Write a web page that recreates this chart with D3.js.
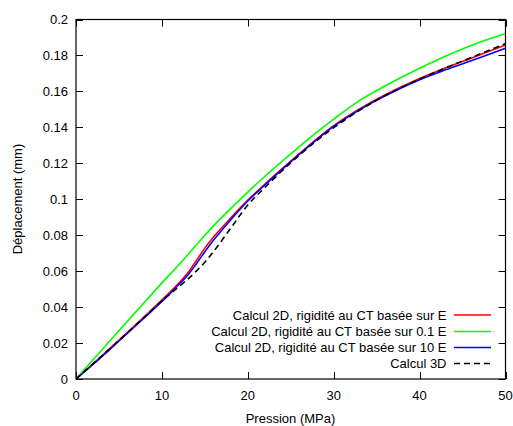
<!DOCTYPE html>
<html><head><meta charset="utf-8">
<script src="https://cdn.jsdelivr.net/npm/d3@7"></script>
<style>body{margin:0;background:#fff}svg{display:block}text{font-family:"Liberation Sans",Arial,sans-serif;font-size:13px;fill:#000}</style>
</head><body><svg id="c" width="513" height="426"></svg>
<script>
const pressure = [0,2,4,6,8,10,11,12,13,14,15,16,18,20,22,25,28,30,33,36,40,43,46,50];
const calcE    = [0,0.0086,0.0173,0.026,0.0348,0.044,0.0486,0.0535,0.059,0.0658,0.0728,0.079,0.0895,0.0995,0.1085,0.1212,0.1335,0.141,0.1503,0.1582,0.1672,0.173,0.1785,0.1858];
const calc01E  = [0,0.0108,0.0216,0.0322,0.0428,0.0535,0.0585,0.0637,0.069,0.0745,0.080,0.0852,0.0948,0.104,0.1128,0.1252,0.1372,0.1446,0.1549,0.1631,0.1729,0.1796,0.1856,0.1922];
const calc10E  = [0,0.0082,0.0168,0.0255,0.0342,0.0432,0.0478,0.0527,0.0577,0.064,0.0708,0.0772,0.0885,0.099,0.108,0.1208,0.133,0.1405,0.1498,0.1576,0.1665,0.172,0.177,0.184];
const calc3D   = [0,0.0085,0.0171,0.0258,0.0346,0.0435,0.0475,0.0515,0.0555,0.060,0.065,0.0708,0.0838,0.0968,0.1066,0.1203,0.1325,0.1398,0.1495,0.1577,0.1668,0.173,0.1788,0.1866];
const seriesNames = ["Calcul 2D, rigidité au CT basée sur E","Calcul 2D, rigidité au CT basée sur 0.1 E","Calcul 2D, rigidité au CT basée sur 10 E","Calcul 3D"];
const seriesColors = ["#ff0000","#00ff00","#0000ff","#000000"];
const xTicks = [0,10,20,30,40,50];
const yTicks = [0,0.02,0.04,0.06,0.08,0.1,0.12,0.14,0.16,0.18,0.2];
const xTitle = "Pression (MPa)";
const yTitle = "Déplacement (mm)";

const L=76, R=505.5, T=19.5, B=379;
const svg=d3.select("#c");
const x=d3.scaleLinear().domain([0,50]).range([L,R]);
const y=d3.scaleLinear().domain([0,0.2]).range([B,T]);
const tl=7;

const g=svg.append("g").attr("stroke","#000").attr("stroke-width",1);
xTicks.forEach(v=>{
  const px=Math.round(x(v))+0.5;
  g.append("line").attr("x1",px).attr("x2",px).attr("y1",B).attr("y2",B-tl);
  g.append("line").attr("x1",px).attr("x2",px).attr("y1",T).attr("y2",T+tl);
});
yTicks.forEach(v=>{
  const py=Math.round(y(v))+0.5;
  g.append("line").attr("x1",L).attr("x2",L+tl).attr("y1",py).attr("y2",py);
  g.append("line").attr("x1",R).attr("x2",R-tl).attr("y1",py).attr("y2",py);
});
xTicks.forEach(v=>{
  svg.append("text").attr("x",x(v)).attr("y",400).attr("text-anchor","middle").text(v);
});
yTicks.forEach(v=>{
  svg.append("text").attr("x",68).attr("y",y(v)+4.5).attr("text-anchor","end").text(v);
});
svg.append("text").attr("x",290.5).attr("y",423).attr("text-anchor","middle").text(xTitle);
svg.append("text").attr("transform","translate(22,199) rotate(-90)").attr("text-anchor","middle").text(yTitle);

const data=[calcE,calc01E,calc10E,calc3D];
const line=d3.line().x((d,i)=>x(pressure[i])).y(d=>y(d)).curve(d3.curveCatmullRom.alpha(0.5));
svg.append("clipPath").attr("id","cp").append("rect").attr("x",L).attr("y",T).attr("width",R-L).attr("height",B-T);
data.forEach((s,i)=>{
  svg.append("path").datum(s).attr("d",line).attr("fill","none")
    .attr("stroke",seriesColors[i]).attr("stroke-width",1.6)
    .attr("stroke-dasharray",i===3?"6,4":null).attr("clip-path","url(#cp)");
});

const ly=[315,331.5,347.5,363.5];
seriesNames.forEach((n,i)=>{
  svg.append("text").attr("x",446.5).attr("y",ly[i]+4.5).attr("text-anchor","end").text(n);
  svg.append("line").attr("x1",454).attr("x2",491).attr("y1",ly[i]).attr("y2",ly[i])
    .attr("stroke",seriesColors[i]).attr("stroke-width",1.6).attr("stroke-dasharray",i===3?"6,4":null);
});

svg.append("rect").attr("x",L).attr("y",T).attr("width",R-L).attr("height",B-T)
  .attr("fill","none").attr("stroke","#000").attr("stroke-width",1.2);
</script></body></html>
